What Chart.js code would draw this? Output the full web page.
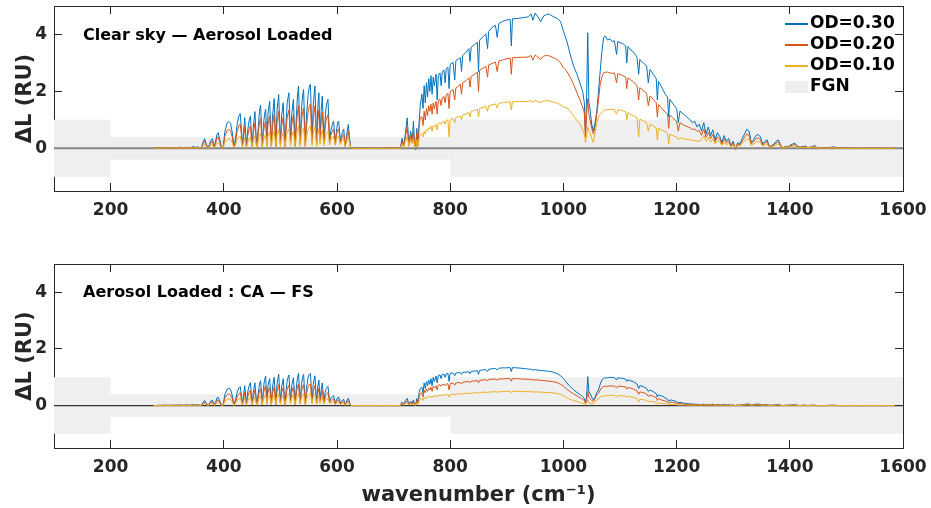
<!DOCTYPE html>
<html>
<head>
<meta charset="utf-8">
<title>Aerosol radiance difference spectra</title>
<script src="https://cdn.jsdelivr.net/npm/chart.js@4.4.1/dist/chart.umd.min.js"></script>
<style>
  body { margin: 0; background: #fff; }
  #wrap { position: relative; width: 931px; height: 508px; }
  canvas { position: absolute; left: 0; }
</style>
</head>
<body>
<div id="wrap">
  <canvas id="topChart" width="931" height="250" style="top:0"></canvas>
  <canvas id="bottomChart" width="931" height="258" style="top:250px"></canvas>
</div>
<script>
// wavenumber grid (cm-1), shared by both panels
const wavenumber = [
  276, 285, 295, 305, 315, 322, 328, 334, 340, 346, 350, 354, 358,
  361, 363, 366, 369, 372, 374, 377, 380, 383, 386, 388, 390, 393, 396, 399, 402, 406, 409, 412, 415, 418,
  421, 424, 427, 429, 431, 433, 435, 437, 440, 442, 445, 447, 450, 452, 455, 458, 460, 463, 465, 468, 470, 472, 474, 476,
  478, 481, 484, 486, 489, 492, 494, 497, 500, 502, 505, 508, 510, 512, 515, 518, 520, 523, 526, 528, 530, 532, 535,
  537, 539, 541, 544, 546, 549, 551, 553, 556, 558, 561, 564, 566, 568, 570, 572, 574, 577, 579, 581, 584, 587,
  589, 592, 594, 597, 599, 601, 603, 606, 608, 610, 612, 614, 616, 618, 620, 622, 624, 626,
  640, 670, 700, 710,
  712, 715, 718, 721, 724, 727, 730, 733, 735, 737, 739, 741, 743, 745, 747,
  750, 752, 754, 756, 758, 760, 762, 764, 766, 768, 770, 772, 775, 777, 779, 782, 784, 786, 789, 791, 793, 796, 798, 800,
  805, 808, 810, 815, 818, 820, 822, 828, 833, 835, 837, 843, 848, 850, 852, 858, 863, 866, 868, 874, 880, 883, 886, 892, 898, 906,
  908, 910, 918, 925, 932, 938, 943, 946, 950, 955, 960, 965, 970, 975, 980, 985, 990, 995, 1000,
  1006, 1012, 1018, 1024, 1030, 1034, 1037, 1039, 1041, 1043, 1045, 1047, 1050, 1053, 1056, 1059, 1062, 1065, 1068, 1071, 1074,
  1078, 1082, 1086, 1090, 1094, 1096, 1100, 1105, 1110, 1112, 1114, 1118, 1124, 1130, 1133, 1135, 1141, 1147, 1150, 1153,
  1159, 1164, 1166, 1168, 1171, 1176, 1180, 1184, 1186, 1188, 1194, 1200, 1203, 1206, 1212, 1218, 1223, 1228, 1232, 1236, 1240,
  1244, 1248, 1252, 1256, 1260, 1264, 1268, 1272, 1276, 1280, 1284, 1288, 1292, 1296, 1300, 1304, 1308, 1312, 1316, 1320, 1324, 1328, 1332, 1336, 1340,
  1344, 1348, 1352, 1356, 1360, 1364, 1368, 1372, 1376, 1380, 1384, 1388, 1392, 1396, 1400, 1405, 1409, 1413, 1418, 1422, 1428, 1432, 1438, 1444,
  1448, 1455, 1462, 1470, 1478, 1484, 1500, 1530, 1560, 1585
];

// top panel: Clear sky - Aerosol Loaded
const od30Top = [
  0, 0.01, 0.01, 0.02, 0.02, 0.04, 0.02, 0.03, 0.02, 0.06, 0.03, 0.05, 0.02,
  0.02, 0.2, 0.34, 0.15, 0.02, 0.1, 0.28, 0.33, 0.03, 0.3, 0.5, 0.55, 0.3, 0.02, 0.05, 0.6, 0.9, 0.94, 0.88, 0.55, 0.02,
  0.4, 0.9, 1.15, 1.22, 0.7, 0.1, 0.6, 1.08, 0.05, 0.6, 1.0, 1.13, 0.08, 0.7, 1.29, 0.05, 0.5, 1.3, 1.52, 0.1, 0.8, 1.2, 1.37, 0.15,
  1.2, 1.66, 0.1, 1.1, 1.75, 0.08, 1.3, 1.89, 0.2, 1.1, 1.6, 0.05, 0.9, 1.6, 1.95, 0.3, 1.2, 1.72, 0.1, 1.0, 1.8, 2.19, 0.2,
  1.3, 1.8, 2.07, 0.1, 1.1, 1.9, 2.15, 2.25, 0.3, 1.5, 2.19, 0.2, 1.4, 1.95, 0.4, 1.3, 1.84, 0.25, 1.0, 1.5, 1.72, 0.3,
  0.6, 0.85, 0.96, 0.2, 0.6, 0.9, 0.96, 0.25, 0.45, 0.6, 0.67, 0.1, 0.3, 0.6, 0.84, 0.4, 0.05, 0,
  0.01, 0, 0.01, 0,
  0.02, 0.35, 0.1, 0.55, 1.07, 0.15, 0.6, 0.3, 0.96, 0.2, -0.05, 0.7, 0.1, 0.9, 1.5,
  1.9, 1.4, 2.2, 1.6, 2.3, 1.8, 2.45, 2.0, 2.55, 1.9, 2.5, 2.2, 2.6, 1.7, 2.55, 2.65, 2.2, 2.7, 2.75, 2.3, 2.8, 2.85, 2.1, 2.95,
  3.02, 2.4, 3.08, 3.15, 3.18, 2.7, 3.25, 3.38, 3.5, 3.05, 3.55, 3.65, 3.72, 2.7, 3.8, 3.92, 4.02, 3.5, 4.1, 4.25, 4.32, 3.9, 4.38, 4.45, 4.5, 4.53,
  3.6, 4.55, 4.56, 4.58, 4.6, 4.62, 4.72, 4.5, 4.75, 4.62, 4.45, 4.65, 4.7, 4.72, 4.65, 4.6, 4.55, 4.45, 4.12,
  3.77, 3.3, 2.89, 2.6, 2.25, 2.0, 1.6, 0.5, 1.8, 4.06, 1.6, 1.4, 0.84, 0.61, 0.9, 1.31, 2.0, 2.71, 3.4, 3.88, 3.95,
  3.8, 3.85, 3.75, 3.78, 3.3, 3.75, 3.71, 3.68, 3.6, 3.0, 3.58, 3.47, 3.38, 3.2, 2.6, 3.12, 3.0, 2.9, 2.3, 2.77,
  2.6, 2.45, 1.7, 2.35, 2.25, 2.05, 1.9, 1.8, 1.1, 1.72, 1.55, 1.4, 0.9, 1.31, 1.2, 1.1, 1.02, 0.9, 0.95, 0.75, 0.85,
  0.6, 0.9, 0.5, 0.75, 0.45, 0.65, 0.3, 0.55, 0.43, 0.2, 0.45, 0.25, 0.35, 0.1, 0.25, -0.04, 0.2, 0.15, 0.35, 0.5, 0.67, 0.6, 0.2, 0.3, 0.45,
  0.49, 0.4, 0.15, 0.25, 0.3, 0.05, 0.1, 0.15, 0.25, 0.29, 0.1, 0.02, 0.06, 0.05, 0.1, 0.15, 0.18, 0.08, 0.04, 0.06, 0.08, 0.02, 0.05, 0.1,
  0.03, 0.02, 0.01, 0.03, 0.05, 0.01, 0, 0, 0, 0
];
const od20Top = [
  0, 0.01, 0.01, 0.01, 0.02, 0.03, 0.02, 0.02, 0.02, 0.04, 0.02, 0.03, 0.01,
  0.01, 0.15, 0.25, 0.11, 0.01, 0.07, 0.2, 0.24, 0.02, 0.22, 0.37, 0.4, 0.22, 0.01, 0.04, 0.43, 0.63, 0.66, 0.62, 0.39, 0.01,
  0.28, 0.63, 0.8, 0.85, 0.49, 0.07, 0.42, 0.75, 0.03, 0.42, 0.7, 0.78, 0.05, 0.48, 0.89, 0.03, 0.35, 0.9, 1.05, 0.07, 0.55, 0.83, 0.94, 0.1,
  0.83, 1.14, 0.07, 0.76, 1.2, 0.05, 0.9, 1.3, 0.14, 0.76, 1.1, 0.03, 0.62, 1.1, 1.34, 0.2, 0.83, 1.18, 0.07, 0.69, 1.24, 1.5, 0.14,
  0.9, 1.24, 1.42, 0.07, 0.76, 1.3, 1.48, 1.55, 0.2, 1.03, 1.5, 0.14, 0.96, 1.34, 0.28, 0.9, 1.27, 0.17, 0.69, 1.03, 1.18, 0.2,
  0.45, 0.62, 0.68, 0.15, 0.45, 0.65, 0.68, 0.18, 0.35, 0.45, 0.5, 0.07, 0.22, 0.45, 0.62, 0.3, 0.03, 0,
  0, 0, 0.01, 0,
  0.01, 0.25, 0.08, 0.4, 0.75, 0.1, 0.45, 0.22, 0.6, 0.15, 0, 0.55, 0.1, 0.7, 1.08,
  1.1, 0.8, 1.3, 1.0, 1.4, 1.15, 1.5, 1.3, 1.55, 1.2, 1.6, 1.4, 1.65, 1.2, 1.68, 1.72, 1.5, 1.78, 1.82, 1.6, 1.88, 1.93, 1.4, 2.0,
  2.06, 1.7, 2.12, 2.2, 2.25, 1.9, 2.3, 2.38, 2.48, 2.15, 2.52, 2.6, 2.68, 2.0, 2.74, 2.82, 2.88, 2.5, 2.93, 2.98, 3.03, 2.7, 3.07, 3.1, 3.14, 3.17,
  2.6, 3.18, 3.19, 3.2, 3.2, 3.21, 3.26, 3.1, 3.28, 3.2, 3.12, 3.24, 3.26, 3.25, 3.2, 3.16, 3.1, 3.0, 2.82,
  2.71, 2.5, 2.25, 1.95, 1.66, 1.45, 1.25, 0.4, 1.2, 1.75, 1.2, 1.0, 0.7, 0.5, 0.75, 1.19, 1.7, 2.25, 2.5, 2.65, 2.67,
  2.68, 2.65, 2.63, 2.65, 2.3, 2.62, 2.6, 2.55, 2.5, 2.1, 2.47, 2.42, 2.33, 2.2, 1.7, 2.13, 2.03, 1.93, 1.5, 1.84,
  1.72, 1.6, 1.1, 1.53, 1.48, 1.35, 1.27, 1.21, 0.7, 1.17, 1.05, 0.95, 0.6, 0.9, 0.82, 0.77, 0.73, 0.66, 0.68, 0.6, 0.62,
  0.45, 0.68, 0.38, 0.56, 0.34, 0.49, 0.23, 0.41, 0.32, 0.15, 0.34, 0.19, 0.26, 0.08, 0.19, -0.02, 0.15, 0.11, 0.26, 0.38, 0.5, 0.45, 0.15, 0.23, 0.34,
  0.37, 0.3, 0.11, 0.19, 0.23, 0.04, 0.08, 0.11, 0.19, 0.22, 0.08, 0.02, 0.05, 0.04, 0.08, 0.11, 0.14, 0.06, 0.03, 0.05, 0.06, 0.02, 0.04, 0.07,
  0.02, 0.01, 0.01, 0.02, 0.03, 0.01, 0, 0, 0, 0
];
const od10Top = [
  0, 0, 0.01, 0.01, 0.01, 0.02, 0.01, 0.01, 0.01, 0.02, 0.01, 0.02, 0.01,
  0.01, 0.08, 0.13, 0.06, 0.01, 0.04, 0.1, 0.12, 0.01, 0.11, 0.19, 0.2, 0.11, 0.01, 0.02, 0.22, 0.31, 0.33, 0.31, 0.2, 0.01,
  0.14, 0.32, 0.41, 0.43, 0.25, 0.04, 0.21, 0.38, 0.02, 0.21, 0.35, 0.4, 0.03, 0.25, 0.45, 0.02, 0.18, 0.46, 0.53, 0.04, 0.28, 0.42, 0.48, 0.05,
  0.42, 0.58, 0.04, 0.39, 0.61, 0.03, 0.46, 0.66, 0.07, 0.39, 0.56, 0.02, 0.32, 0.56, 0.68, 0.1, 0.42, 0.6, 0.04, 0.35, 0.63, 0.77, 0.07,
  0.46, 0.63, 0.72, 0.04, 0.39, 0.66, 0.75, 0.79, 0.1, 0.52, 0.77, 0.07, 0.49, 0.68, 0.14, 0.46, 0.64, 0.09, 0.35, 0.52, 0.6, 0.12,
  0.3, 0.4, 0.42, 0.1, 0.3, 0.4, 0.42, 0.12, 0.25, 0.32, 0.35, 0.05, 0.15, 0.3, 0.42, 0.2, 0.02, 0,
  0, 0, 0, 0,
  0.01, 0.15, 0.05, 0.25, 0.42, 0.06, 0.3, 0.15, 0.35, 0.1, 0, 0.3, 0.06, 0.35, 0.49,
  0.52, 0.4, 0.6, 0.5, 0.66, 0.6, 0.72, 0.68, 0.78, 0.6, 0.8, 0.75, 0.84, 0.65, 0.87, 0.9, 0.85, 0.93, 0.95, 0.85, 0.98, 1.0, 0.4, 1.02,
  1.05, 0.9, 1.08, 1.11, 1.13, 1.0, 1.16, 1.21, 1.26, 1.1, 1.29, 1.33, 1.37, 1.1, 1.4, 1.44, 1.47, 1.3, 1.49, 1.53, 1.56, 1.42, 1.58, 1.6, 1.62, 1.63,
  1.35, 1.63, 1.64, 1.64, 1.64, 1.65, 1.68, 1.6, 1.69, 1.64, 1.61, 1.66, 1.67, 1.67, 1.64, 1.61, 1.58, 1.53, 1.45,
  1.43, 1.3, 1.13, 0.98, 0.84, 0.65, 0.5, 0.2, 0.45, 0.75, 0.6, 0.55, 0.35, 0.2, 0.55, 0.9, 1.1, 1.2, 1.25, 1.32, 1.35,
  1.36, 1.37, 1.36, 1.36, 1.2, 1.35, 1.35, 1.32, 1.28, 1.0, 1.26, 1.19, 1.14, 1.08, 0.4, 1.02, 0.97, 0.91, 0.6, 0.84,
  0.78, 0.72, 0.3, 0.7, 0.67, 0.62, 0.57, 0.53, 0.15, 0.49, 0.44, 0.4, 0.3, 0.37, 0.34, 0.32, 0.3, 0.28, 0.27, 0.25, 0.25,
  0.3, 0.45, 0.25, 0.38, 0.22, 0.33, 0.15, 0.28, 0.22, 0.1, 0.22, 0.12, 0.18, 0.05, 0.12, 0, 0.1, 0.08, 0.18, 0.25, 0.34, 0.3, 0.1, 0.15, 0.22,
  0.25, 0.2, 0.08, 0.12, 0.15, 0.03, 0.05, 0.08, 0.12, 0.15, 0.05, 0.01, 0.03, 0.03, 0.05, 0.08, 0.09, 0.04, 0.02, 0.03, 0.04, 0.01, 0.03, 0.05,
  0.02, 0.01, 0, 0.01, 0.02, 0, 0, 0, 0, 0
];

// bottom panel: Aerosol Loaded : CA - FS
const od30Diff = [
  0, 0.01, 0.01, 0.01, 0.01, 0.02, 0.01, 0.02, 0.01, 0.03, 0.02, 0.03, 0.01,
  0.01, 0.1, 0.18, 0.08, 0.01, 0.05, 0.16, 0.19, 0.02, 0.15, 0.27, 0.29, 0.15, 0.01, 0.03, 0.4, 0.58, 0.61, 0.57, 0.36, 0.01,
  0.22, 0.5, 0.63, 0.67, 0.38, 0.05, 0.38, 0.7, 0.03, 0.45, 0.72, 0.81, 0.05, 0.45, 0.8, 0.03, 0.3, 0.76, 0.88, 0.06, 0.6, 0.92, 1.04, 0.1,
  0.7, 0.95, 0.06, 0.65, 1.0, 0.05, 0.75, 1.11, 0.12, 0.65, 0.95, 0.03, 0.5, 0.9, 1.08, 0.18, 0.7, 0.98, 0.06, 0.6, 0.95, 1.14, 0.12,
  0.7, 0.98, 1.1, 0.06, 0.6, 1.0, 1.1, 1.13, 0.15, 0.75, 1.05, 0.1, 0.65, 0.9, 0.2, 0.55, 0.8, 0.12, 0.45, 0.6, 0.68, 0.15,
  0.25, 0.32, 0.35, 0.08, 0.2, 0.28, 0.3, 0.08, 0.15, 0.2, 0.22, 0.03, 0.1, 0.2, 0.26, 0.12, 0.02, 0,
  0, 0, 0, 0,
  0.01, 0.12, 0.04, 0.18, 0.25, 0.05, 0.15, 0.08, 0.2, 0.05, 0, 0.25, 0.1, 0.45, 0.6,
  0.65, 0.45, 0.8, 0.6, 0.85, 0.7, 0.9, 0.75, 0.95, 0.7, 1.0, 0.85, 1.04, 0.8, 1.06, 1.08, 0.95, 1.1, 1.11, 1.0, 1.12, 1.13, 0.85, 1.14,
  1.15, 1.05, 1.15, 1.16, 1.16, 1.1, 1.17, 1.18, 1.19, 1.12, 1.2, 1.22, 1.23, 1.1, 1.24, 1.26, 1.27, 1.2, 1.28, 1.3, 1.31, 1.26, 1.32, 1.33, 1.33, 1.34,
  1.2, 1.34, 1.33, 1.32, 1.3, 1.29, 1.28, 1.25, 1.27, 1.25, 1.24, 1.23, 1.22, 1.21, 1.19, 1.16, 1.12, 1.05, 0.96,
  0.8, 0.67, 0.56, 0.46, 0.38, 0.32, 0.25, 0.1, 0.3, 1.02, 0.5, 0.43, 0.3, 0.2, 0.3, 0.45, 0.55, 0.75, 0.9, 0.96, 0.98,
  0.98, 1.0, 0.99, 0.99, 0.9, 0.98, 0.97, 0.96, 0.93, 0.85, 0.91, 0.88, 0.84, 0.76, 0.6, 0.7, 0.67, 0.6, 0.5, 0.55,
  0.49, 0.42, 0.3, 0.38, 0.35, 0.32, 0.27, 0.22, 0.15, 0.2, 0.18, 0.14, 0.1, 0.11, 0.09, 0.07, 0.06, 0.05, 0.05, 0.04, 0.04,
  0.03, 0.05, 0.02, 0.04, 0.03, 0.05, 0.02, 0.04, 0.03, 0.02, 0.04, 0.02, 0.03, 0.01, 0.02, 0, 0.02, 0.01, 0.03, 0.04, 0.06, 0.05, 0.02, 0.03, 0.05,
  0.05, 0.04, 0.02, 0.03, 0.03, 0.01, 0.01, 0.02, 0.03, 0.04, 0.01, 0, 0.01, 0.01, 0.02, 0.02, 0.03, 0.01, 0, 0.01, 0.01, 0, 0.01, 0.01,
  0, 0, 0, 0.01, 0.01, 0, 0, 0, 0, 0
];
const od20Diff = [
  0, 0, 0.01, 0.01, 0.01, 0.01, 0.01, 0.01, 0.01, 0.02, 0.01, 0.02, 0.01,
  0.01, 0.07, 0.12, 0.05, 0.01, 0.03, 0.11, 0.13, 0.01, 0.1, 0.18, 0.19, 0.1, 0.01, 0.02, 0.27, 0.39, 0.41, 0.38, 0.24, 0.01,
  0.15, 0.34, 0.42, 0.45, 0.25, 0.03, 0.25, 0.47, 0.02, 0.3, 0.48, 0.54, 0.03, 0.3, 0.54, 0.02, 0.2, 0.51, 0.59, 0.04, 0.4, 0.62, 0.7, 0.07,
  0.47, 0.64, 0.04, 0.44, 0.67, 0.03, 0.5, 0.74, 0.08, 0.44, 0.64, 0.02, 0.34, 0.6, 0.72, 0.12, 0.47, 0.66, 0.04, 0.4, 0.64, 0.76, 0.08,
  0.47, 0.66, 0.74, 0.04, 0.4, 0.67, 0.74, 0.76, 0.1, 0.5, 0.7, 0.07, 0.44, 0.6, 0.13, 0.37, 0.54, 0.08, 0.3, 0.4, 0.46, 0.1,
  0.17, 0.21, 0.23, 0.05, 0.13, 0.19, 0.2, 0.05, 0.1, 0.13, 0.15, 0.02, 0.07, 0.13, 0.17, 0.08, 0.01, 0,
  0, 0, 0, 0,
  0.01, 0.08, 0.03, 0.12, 0.17, 0.03, 0.1, 0.05, 0.14, 0.03, 0, 0.17, 0.07, 0.3, 0.42,
  0.45, 0.3, 0.55, 0.45, 0.58, 0.5, 0.62, 0.55, 0.65, 0.5, 0.68, 0.62, 0.7, 0.55, 0.72, 0.73, 0.68, 0.74, 0.75, 0.7, 0.76, 0.77, 0.55, 0.78,
  0.79, 0.72, 0.8, 0.81, 0.81, 0.76, 0.82, 0.84, 0.85, 0.8, 0.86, 0.87, 0.88, 0.8, 0.89, 0.9, 0.91, 0.87, 0.92, 0.93, 0.93, 0.9, 0.94, 0.94, 0.95, 0.95,
  0.86, 0.95, 0.95, 0.94, 0.93, 0.93, 0.92, 0.9, 0.91, 0.9, 0.89, 0.88, 0.87, 0.86, 0.85, 0.83, 0.8, 0.75, 0.69,
  0.58, 0.49, 0.41, 0.34, 0.27, 0.22, 0.18, 0.08, 0.2, 0.5, 0.3, 0.25, 0.18, 0.14, 0.25, 0.38, 0.43, 0.55, 0.63, 0.67, 0.68,
  0.68, 0.69, 0.69, 0.69, 0.62, 0.68, 0.68, 0.67, 0.66, 0.58, 0.64, 0.62, 0.58, 0.52, 0.4, 0.48, 0.46, 0.41, 0.32, 0.37,
  0.32, 0.28, 0.18, 0.25, 0.22, 0.18, 0.16, 0.13, 0.08, 0.12, 0.11, 0.08, 0.06, 0.07, 0.05, 0.04, 0.04, 0.03, 0.03, 0.03, 0.03,
  0.02, 0.04, 0.02, 0.03, 0.02, 0.04, 0.01, 0.03, 0.02, 0.01, 0.03, 0.01, 0.02, 0.01, 0.01, 0, 0.01, 0.01, 0.02, 0.03, 0.04, 0.04, 0.01, 0.02, 0.04,
  0.04, 0.03, 0.01, 0.02, 0.02, 0.01, 0.01, 0.01, 0.02, 0.03, 0.01, 0, 0.01, 0.01, 0.01, 0.02, 0.02, 0.01, 0, 0.01, 0.01, 0, 0.01, 0.01,
  0, 0, 0, 0, 0.01, 0, 0, 0, 0, 0
];
const od10Diff = [
  0, 0, 0, 0, 0.01, 0.01, 0, 0.01, 0, 0.01, 0.01, 0.01, 0,
  0, 0.04, 0.07, 0.03, 0, 0.02, 0.06, 0.07, 0.01, 0.06, 0.1, 0.11, 0.06, 0, 0.01, 0.15, 0.22, 0.23, 0.22, 0.14, 0,
  0.08, 0.19, 0.24, 0.25, 0.14, 0.02, 0.14, 0.27, 0.01, 0.17, 0.27, 0.31, 0.02, 0.17, 0.3, 0.01, 0.11, 0.29, 0.33, 0.02, 0.23, 0.35, 0.4, 0.04,
  0.27, 0.36, 0.02, 0.25, 0.38, 0.02, 0.29, 0.42, 0.05, 0.25, 0.36, 0.01, 0.19, 0.34, 0.41, 0.07, 0.27, 0.37, 0.02, 0.23, 0.36, 0.43, 0.05,
  0.27, 0.37, 0.42, 0.02, 0.23, 0.38, 0.42, 0.43, 0.06, 0.29, 0.4, 0.04, 0.25, 0.34, 0.08, 0.21, 0.3, 0.05, 0.17, 0.23, 0.26, 0.06,
  0.1, 0.12, 0.13, 0.03, 0.08, 0.11, 0.11, 0.03, 0.06, 0.08, 0.08, 0.01, 0.04, 0.08, 0.1, 0.05, 0.01, 0,
  0, 0, 0, 0,
  0, 0.05, 0.02, 0.07, 0.1, 0.02, 0.06, 0.03, 0.08, 0.02, 0, 0.1, 0.04, 0.16, 0.22,
  0.25, 0.18, 0.28, 0.24, 0.3, 0.27, 0.32, 0.3, 0.33, 0.28, 0.34, 0.32, 0.35, 0.3, 0.36, 0.37, 0.35, 0.37, 0.38, 0.36, 0.38, 0.39, 0.3, 0.39,
  0.4, 0.37, 0.4, 0.41, 0.41, 0.39, 0.42, 0.43, 0.44, 0.41, 0.44, 0.45, 0.46, 0.42, 0.46, 0.47, 0.47, 0.45, 0.48, 0.48, 0.49, 0.47, 0.49, 0.49, 0.5, 0.5,
  0.45, 0.5, 0.5, 0.5, 0.49, 0.49, 0.49, 0.48, 0.48, 0.48, 0.47, 0.47, 0.46, 0.46, 0.45, 0.44, 0.42, 0.39, 0.34,
  0.28, 0.22, 0.17, 0.14, 0.1, 0.08, 0.06, 0.03, 0.08, 0.2, 0.1, 0.08, 0.06, 0.06, 0.12, 0.2, 0.25, 0.3, 0.33, 0.34, 0.35,
  0.35, 0.36, 0.36, 0.36, 0.3, 0.35, 0.35, 0.34, 0.34, 0.28, 0.33, 0.31, 0.28, 0.25, 0.12, 0.22, 0.21, 0.18, 0.14, 0.15,
  0.13, 0.11, 0.05, 0.09, 0.08, 0.07, 0.06, 0.05, 0.03, 0.04, 0.04, 0.03, 0.02, 0.02, 0.02, 0.02, 0.01, 0.01, 0.01, 0.01, 0.01,
  0.01, 0.02, 0.01, 0.02, 0.01, 0.02, 0.01, 0.01, 0.01, 0.01, 0.01, 0.01, 0.01, 0, 0.01, 0, 0.01, 0, 0.01, 0.02, 0.02, 0.02, 0.01, 0.01, 0.02,
  0.02, 0.02, 0.01, 0.01, 0.01, 0, 0, 0.01, 0.01, 0.02, 0, 0, 0, 0, 0.01, 0.01, 0.01, 0, 0, 0, 0, 0, 0, 0,
  0, 0, 0, 0, 0, 0, 0, 0, 0, 0
];

// FGN band (step edges) and axis ticks
const fgnEdges = [100, 200, 800, 1600];
const fgnUpper = [1, 0.4, 1, 1];
const fgnLower = [-1, -0.4, -1, -1];
const xTicks = [200, 400, 600, 800, 1000, 1200, 1400, 1600];
const yTicks = [0, 2, 4];

const seriesLabels = ['OD=0.30', 'OD=0.20', 'OD=0.10'];
const seriesColors = ['#0072BD', '#D95319', '#EDB120'];
const fgnColor = '#efefef';
const axisColor = '#262626';

[od30Top, od20Top, od10Top, od30Diff, od20Diff, od10Diff].forEach((a, k) => {
  if (a.length !== wavenumber.length) {
    throw new Error('series ' + k + ' has ' + a.length + ' values, expected ' + wavenumber.length);
  }
});

Chart.defaults.font.family = '"DejaVu Sans", sans-serif';
Chart.defaults.font.weight = 'bold';
Chart.defaults.color = axisColor;

// text label in the upper left of each panel
const notePlugin = {
  id: 'panelNote',
  afterDatasetsDraw(chart, args, o) {
    const {ctx, chartArea} = chart;
    ctx.save();
    ctx.font = 'bold 16px "DejaVu Sans"';
    ctx.fillStyle = '#000';
    ctx.textBaseline = 'middle';
    ctx.fillText(o.text, chartArea.left + 29, chartArea.top + o.dy);
    ctx.restore();
  }
};

// MATLAB-like legend, inside the top right corner, no box
const legendPlugin = {
  id: 'odLegend',
  afterDatasetsDraw(chart, args, o) {
    if (!o.show) return;
    const {ctx, chartArea} = chart;
    const x0 = chartArea.right - 118;
    const y0 = chartArea.top + 18;
    ctx.save();
    ctx.font = 'bold 17px "DejaVu Sans"';
    ctx.textBaseline = 'middle';
    seriesLabels.forEach((lab, i) => {
      const y = y0 + i * 21;
      ctx.strokeStyle = seriesColors[i];
      ctx.lineWidth = 2;
      ctx.beginPath();
      ctx.moveTo(x0, y);
      ctx.lineTo(x0 + 23, y);
      ctx.stroke();
      ctx.fillStyle = '#000';
      ctx.fillText(lab, x0 + 25, y);
    });
    const yf = y0 + 3 * 21;
    ctx.fillStyle = fgnColor;
    ctx.fillRect(x0, yf - 6, 23, 12);
    ctx.fillStyle = '#000';
    ctx.fillText('FGN', x0 + 25, yf);
    ctx.restore();
  }
};

function pts(xs, ys) {
  return xs.map((x, i) => ({x: x, y: ys[i]}));
}

function noPad(s) {
  s.paddingLeft = 0; s.paddingRight = 0; s.paddingTop = 0; s.paddingBottom = 0;
}

function makePanel(id, series, cfg) {
  const tickGrid = {drawOnChartArea: false, drawTicks: true, tickLength: -8, color: axisColor, lineWidth: 1};
  const border = {display: true, color: axisColor, width: 1};
  const setX = s => { s.ticks = xTicks.map(v => ({value: v})); };
  const setY = s => { s.ticks = yTicks.map(v => ({value: v})); };
  const plain = v => String(v);

  const datasets = [
    {label: 'FGN', data: pts(fgnEdges, fgnUpper), stepped: 'before', borderWidth: 0,
     backgroundColor: fgnColor, fill: '+1', order: 10},
    {label: 'FGN low', data: pts(fgnEdges, fgnLower), stepped: 'before', borderWidth: 0,
     fill: false, order: 11},
    {label: 'zero', data: pts([100, 1600], [0, 0]), borderColor: cfg.zeroColor,
     borderWidth: cfg.zeroWidth, fill: false, order: 5}
  ];
  series.forEach((ys, i) => {
    datasets.push({
      label: seriesLabels[i],
      data: pts(wavenumber, ys),
      borderColor: seriesColors[i],
      borderWidth: 1,
      fill: false,
      order: 3 - i
    });
  });

  return new Chart(document.getElementById(id), {
    type: 'line',
    data: {datasets: datasets},
    plugins: [notePlugin, legendPlugin],
    options: {
      responsive: false,
      animation: false,
      layout: {padding: {top: cfg.padTop, right: 28, left: 0, bottom: 0}},
      elements: {point: {radius: 0}, line: {tension: 0}},
      plugins: {
        legend: {display: false},
        tooltip: {enabled: false},
        panelNote: {text: cfg.note, dy: cfg.noteDy},
        odLegend: {show: cfg.legend}
      },
      scales: {
        x: {
          type: 'linear', position: 'bottom', min: 100, max: 1600,
          afterBuildTicks: setX,
          ticks: {padding: 17, font: {size: 17, weight: 'bold'}, maxRotation: 0, autoSkip: false, callback: plain},
          grid: tickGrid, border: border,
          title: cfg.xTitle
            ? {display: true, text: 'wavenumber (cm\u207B\u00B9)', font: {size: 21, weight: 'bold'},
               color: axisColor, padding: {top: 0, bottom: 0}}
            : {display: false},
          afterFit: s => { s.height = cfg.xHeight; noPad(s); }
        },
        x2: {
          type: 'linear', position: 'top', min: 100, max: 1600,
          afterBuildTicks: setX,
          ticks: {display: false},
          grid: tickGrid, border: border,
          afterFit: s => { s.height = 0; noPad(s); }
        },
        y: {
          type: 'linear', position: 'left', min: -1.5, max: 5,
          afterBuildTicks: setY,
          ticks: {padding: 15, font: {size: 17, weight: 'bold'}, callback: plain},
          grid: tickGrid, border: border,
          title: {display: true, text: '\u0394L (RU)', font: {size: 21, weight: 'bold'},
                  color: axisColor, padding: {top: 13, bottom: 0}},
          afterFit: s => { s.width = 54; noPad(s); }
        },
        y2: {
          type: 'linear', position: 'right', min: -1.5, max: 5,
          afterBuildTicks: setY,
          ticks: {display: false},
          grid: tickGrid, border: border,
          afterFit: s => { s.width = 0; noPad(s); }
        }
      }
    }
  });
}

makePanel('topChart', [od30Top, od20Top, od10Top], {
  padTop: 6, xHeight: 59, xTitle: false,
  note: 'Clear sky \u2014 Aerosol Loaded', noteDy: 30, legend: true,
  zeroColor: '#858585', zeroWidth: 2
});
makePanel('bottomChart', [od30Diff, od20Diff, od10Diff], {
  padTop: 14, xHeight: 60, xTitle: true,
  note: 'Aerosol Loaded : CA \u2014 FS', noteDy: 29, legend: false,
  zeroColor: '#333333', zeroWidth: 1.2
});
</script>
</body>
</html>
